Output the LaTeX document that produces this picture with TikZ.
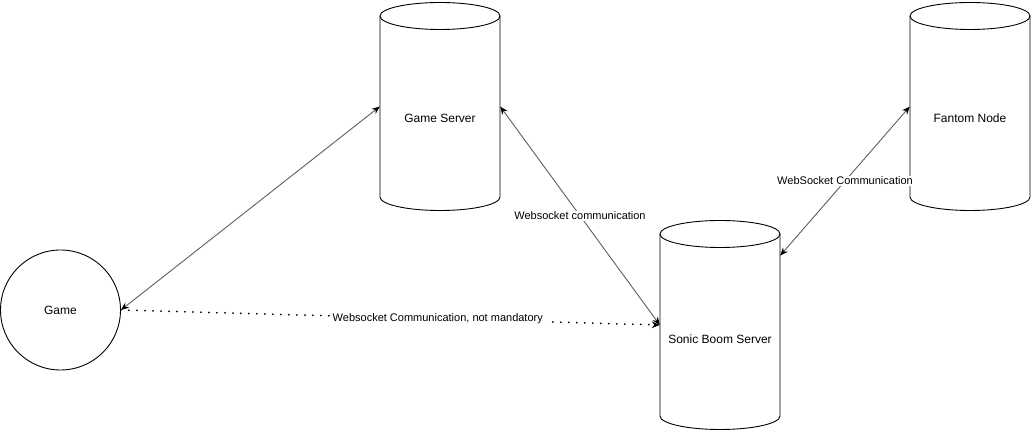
\documentclass[tikz,border=0pt]{standalone}
\usepackage{fontspec}
\setmainfont{Liberation Sans}
\usetikzlibrary{arrows.meta,calc}
\definecolor{edgegray}{RGB}{95,95,95}
\tikzset{
  x=1pt,y=1pt,
  cylbox/.style={rectangle,draw=none,minimum width=120pt,minimum height=207pt,inner sep=0pt},
  cyltext/.style={font=\fontsize{12pt}{14pt}\selectfont},
  conn/.style={draw=edgegray,line width=0.9pt,{Stealth[length=8pt,width=6.5pt,color=black]}-{Stealth[length=8pt,width=6.5pt,color=black]}},
  dotconn/.style={draw=black,line width=2pt,dash pattern=on 0pt off 8pt,line cap=round,-{Stealth[length=8pt,width=6.5pt,color=black,line width=0.9pt]}},
  elabel/.style={fill=white,inner xsep=3pt,inner ysep=1pt,font=\fontsize{11pt}{13pt}\selectfont},
  shapeline/.style={draw=black,line width=0.9pt}
}
\begin{document}
\begin{tikzpicture}
\useasboundingbox[fill=white] (0,0) rectangle (1031,431);
% cylinders
\foreach \x/\yt/\yb in {380/415/234, 910/415/234, 660/197/15}{
  \draw[shapeline] (\x+60,\yt) ellipse[x radius=60,y radius=13.5];
  \draw[shapeline] (\x,\yt) -- (\x,\yb) arc[start angle=180,end angle=360,x radius=60,y radius=13.5] -- (\x+120,\yt);
}
\node[cylbox,label={[cyltext,yshift=-12pt]center:Game Server}] (gs) at (440,324.5) {};
\node[cylbox,label={[cyltext,yshift=-12pt]center:Fantom Node}] (fn) at (970,324.5) {};
\node[cylbox,minimum height=210pt,label={[cyltext,yshift=-14pt]center:Sonic Boom Server}] (sb) at (720,106) {};
\node[circle,draw=black,line width=0.9pt,minimum size=120pt,inner sep=0pt,cyltext] (game) at (60.5,121) {Game};
\coordinate (sbr) at ($(sb.north east)!0.17!(sb.south east)$);
% connectors
\draw[conn] (game.east) -- (gs.west);
\draw[conn] (gs.east) -- node[elabel,pos=0.5] {Websocket communication} (sb.west);
\draw[conn] (sbr) -- node[elabel,pos=0.5] {WebSocket Communication} (fn.west);
\draw[dotconn] (game.east) -- node[elabel,pos=0.588] {Websocket Communication, not mandatory} (sb.west);
\end{tikzpicture}
\end{document}
